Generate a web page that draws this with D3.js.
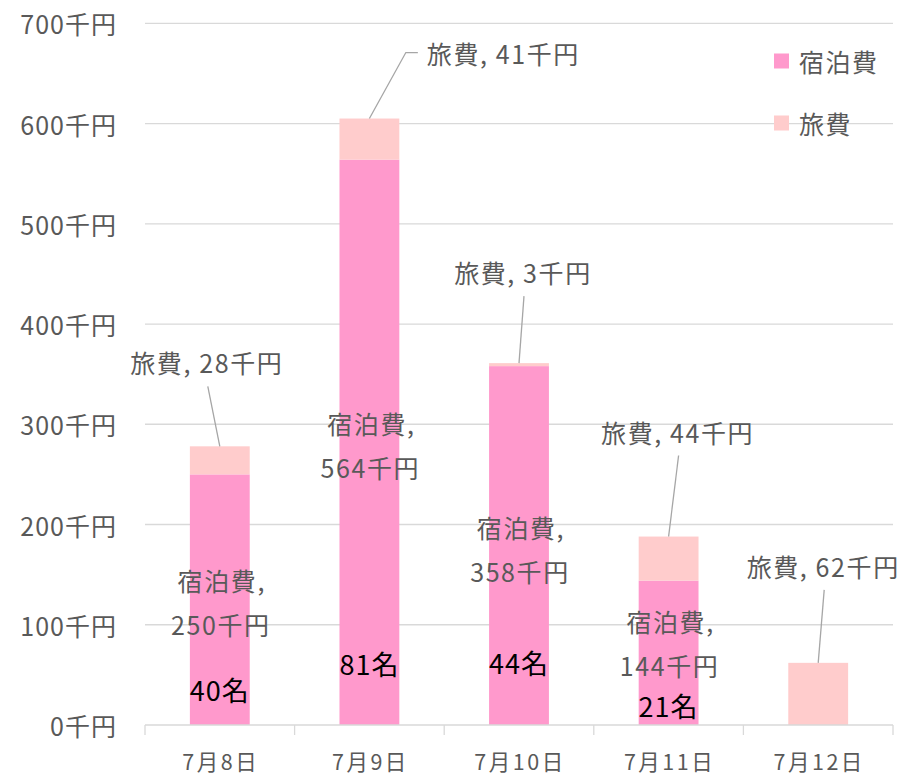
<!DOCTYPE html>
<html><head><meta charset="utf-8">
<script src="https://cdn.jsdelivr.net/npm/d3@7"></script>
<style>
html,body{margin:0;padding:0;background:#fff;}
svg{display:block;font-family:"Noto Sans CJK JP","Noto Sans",sans-serif;}
</style></head>
<body><svg id="chart" width="912" height="776"></svg>
<script>
// ---- data ----
const categories = ["7月8日","7月9日","7月10日","7月11日","7月12日"];
const lodging = [250, 564, 358, 144, 0];     // 宿泊費 (千円)
const travel  = [28, 41, 3, 44, 62];         // 旅費 (千円)
const people  = [40, 81, 44, 21, null];      // 名
const yTicks  = [0,100,200,300,400,500,600,700];
const seriesNames = ["宿泊費","旅費"];

// ---- layout (label placement offsets, px) ----
const travelLabelOffset = [[-13,-84],[134,-66],[4,-91],[9,-105],[5,-97]];
const lodgingLabelOffset = [2,3,3.5,-10,0];
const peopleLabelValue = [35,61,62,19,0];

const colors = {lodging:"#FF99CC", travel:"#FFCCCC"};
const svg = d3.select("#chart");
const x = d3.scaleBand().domain(categories).range([145,893]).paddingInner(0.6).paddingOuter(0.3);
const y = d3.scaleLinear().domain([0,700]).range([725,23.3]);
const textCol = "#595959";

// gridlines
svg.append("g").selectAll("line").data(yTicks.filter(d=>d>0)).join("line")
  .attr("x1",145).attr("x2",893).attr("y1",d=>y(d)).attr("y2",d=>y(d))
  .attr("stroke","#d9d9d9").attr("stroke-width",1.3);

// y axis labels
svg.append("g").selectAll("text").data(yTicks).join("text")
  .attr("x",117).attr("y",d=>y(d)).attr("text-anchor","end").attr("dominant-baseline","central")
  .attr("fill",textCol).attr("font-size",25).attr("letter-spacing",1)
  .text(d=>d+"千円");

// bars
const data = categories.map((c,i)=>({c,i,l:lodging[i],t:travel[i]}));
svg.append("g").selectAll("rect").data(data.filter(d=>d.l>0)).join("rect")
  .attr("x",d=>x(d.c)).attr("width",x.bandwidth())
  .attr("y",d=>y(d.l)).attr("height",d=>y(0)-y(d.l)).attr("fill",colors.lodging);
svg.append("g").selectAll("rect").data(data).join("rect")
  .attr("x",d=>x(d.c)).attr("width",x.bandwidth())
  .attr("y",d=>y(d.l+d.t)).attr("height",d=>y(d.l)-y(d.l+d.t)).attr("fill",colors.travel);

// x axis line and ticks
svg.append("line").attr("x1",145).attr("x2",893).attr("y1",y(0)).attr("y2",y(0))
  .attr("stroke","#d9d9d9").attr("stroke-width",1.3);
const bounds = d3.range(categories.length+1).map(i=>145+i*x.step());
svg.append("g").selectAll("line").data(bounds).join("line")
  .attr("x1",d=>d).attr("x2",d=>d).attr("y1",y(0)).attr("y2",y(0)+10)
  .attr("stroke","#d9d9d9").attr("stroke-width",1.3);
svg.append("g").selectAll("text").data(categories).join("text")
  .attr("x",d=>x(d)+x.bandwidth()/2+1).attr("y",760).attr("text-anchor","middle")
  .attr("dominant-baseline","central").attr("fill",textCol).attr("font-size",21.5).attr("letter-spacing",2.5)
  .text(d=>d);

// travel labels with leader lines
const cx = d=>x(d.c)+x.bandwidth()/2;
data.forEach(d=>{
  const topY = y(d.l+d.t);
  const [dx,dy] = travelLabelOffset[d.i];
  const lx = cx(d)+dx, ly = topY+dy;
  const txt = svg.append("text").attr("x",lx).attr("y",ly).attr("text-anchor","middle")
    .attr("dominant-baseline","central").attr("fill",textCol).attr("font-size",25).attr("letter-spacing",1.6)
    .text(`旅費, ${d.t}千円`);
  if (dx > 60) {
    const w = txt.node().getComputedTextLength();
    const left = lx - w/2 - 9;
    svg.append("polyline").attr("points",`${cx(d)},${topY} ${left-12},${ly} ${left},${ly}`)
      .attr("fill","none").attr("stroke","#a6a6a6").attr("stroke-width",1.3);
  } else {
    svg.append("line").attr("x1",lx+1).attr("y1",ly+24).attr("x2",cx(d)).attr("y2",topY)
      .attr("stroke","#a6a6a6").attr("stroke-width",1.3);
  }
});

// lodging labels
data.filter(d=>d.l>0).forEach(d=>{
  const my = y(d.l/2)+lodgingLabelOffset[d.i];
  const g = svg.append("text").attr("text-anchor","middle").attr("fill",textCol)
    .attr("font-size",25).attr("letter-spacing",1.6).attr("dominant-baseline","central");
  g.append("tspan").attr("x",cx(d)+2).attr("y",my-22).text("宿泊費,");
  g.append("tspan").attr("x",cx(d)+1).attr("y",my+22).text(`${d.l}千円`);
});

// people labels
data.filter(d=>people[d.i]!=null).forEach(d=>{
  svg.append("text").attr("x",cx(d)).attr("y",y(peopleLabelValue[d.i]))
    .attr("text-anchor","middle").attr("dominant-baseline","central")
    .attr("fill","#000").attr("font-size",27).attr("letter-spacing",1)
    .text(`${people[d.i]}名`);
});

// legend
const leg = svg.append("g");
[colors.lodging, colors.travel].forEach((c,i)=>{
  const yy = 61 + i*62;
  leg.append("rect").attr("x",774).attr("y",yy-7.5).attr("width",15).attr("height",15).attr("fill",c);
  leg.append("text").attr("x",799).attr("y",yy).attr("dominant-baseline","central")
    .attr("fill",textCol).attr("font-size",25).attr("letter-spacing",1.5).text(seriesNames[i]);
});
</script></body></html>
